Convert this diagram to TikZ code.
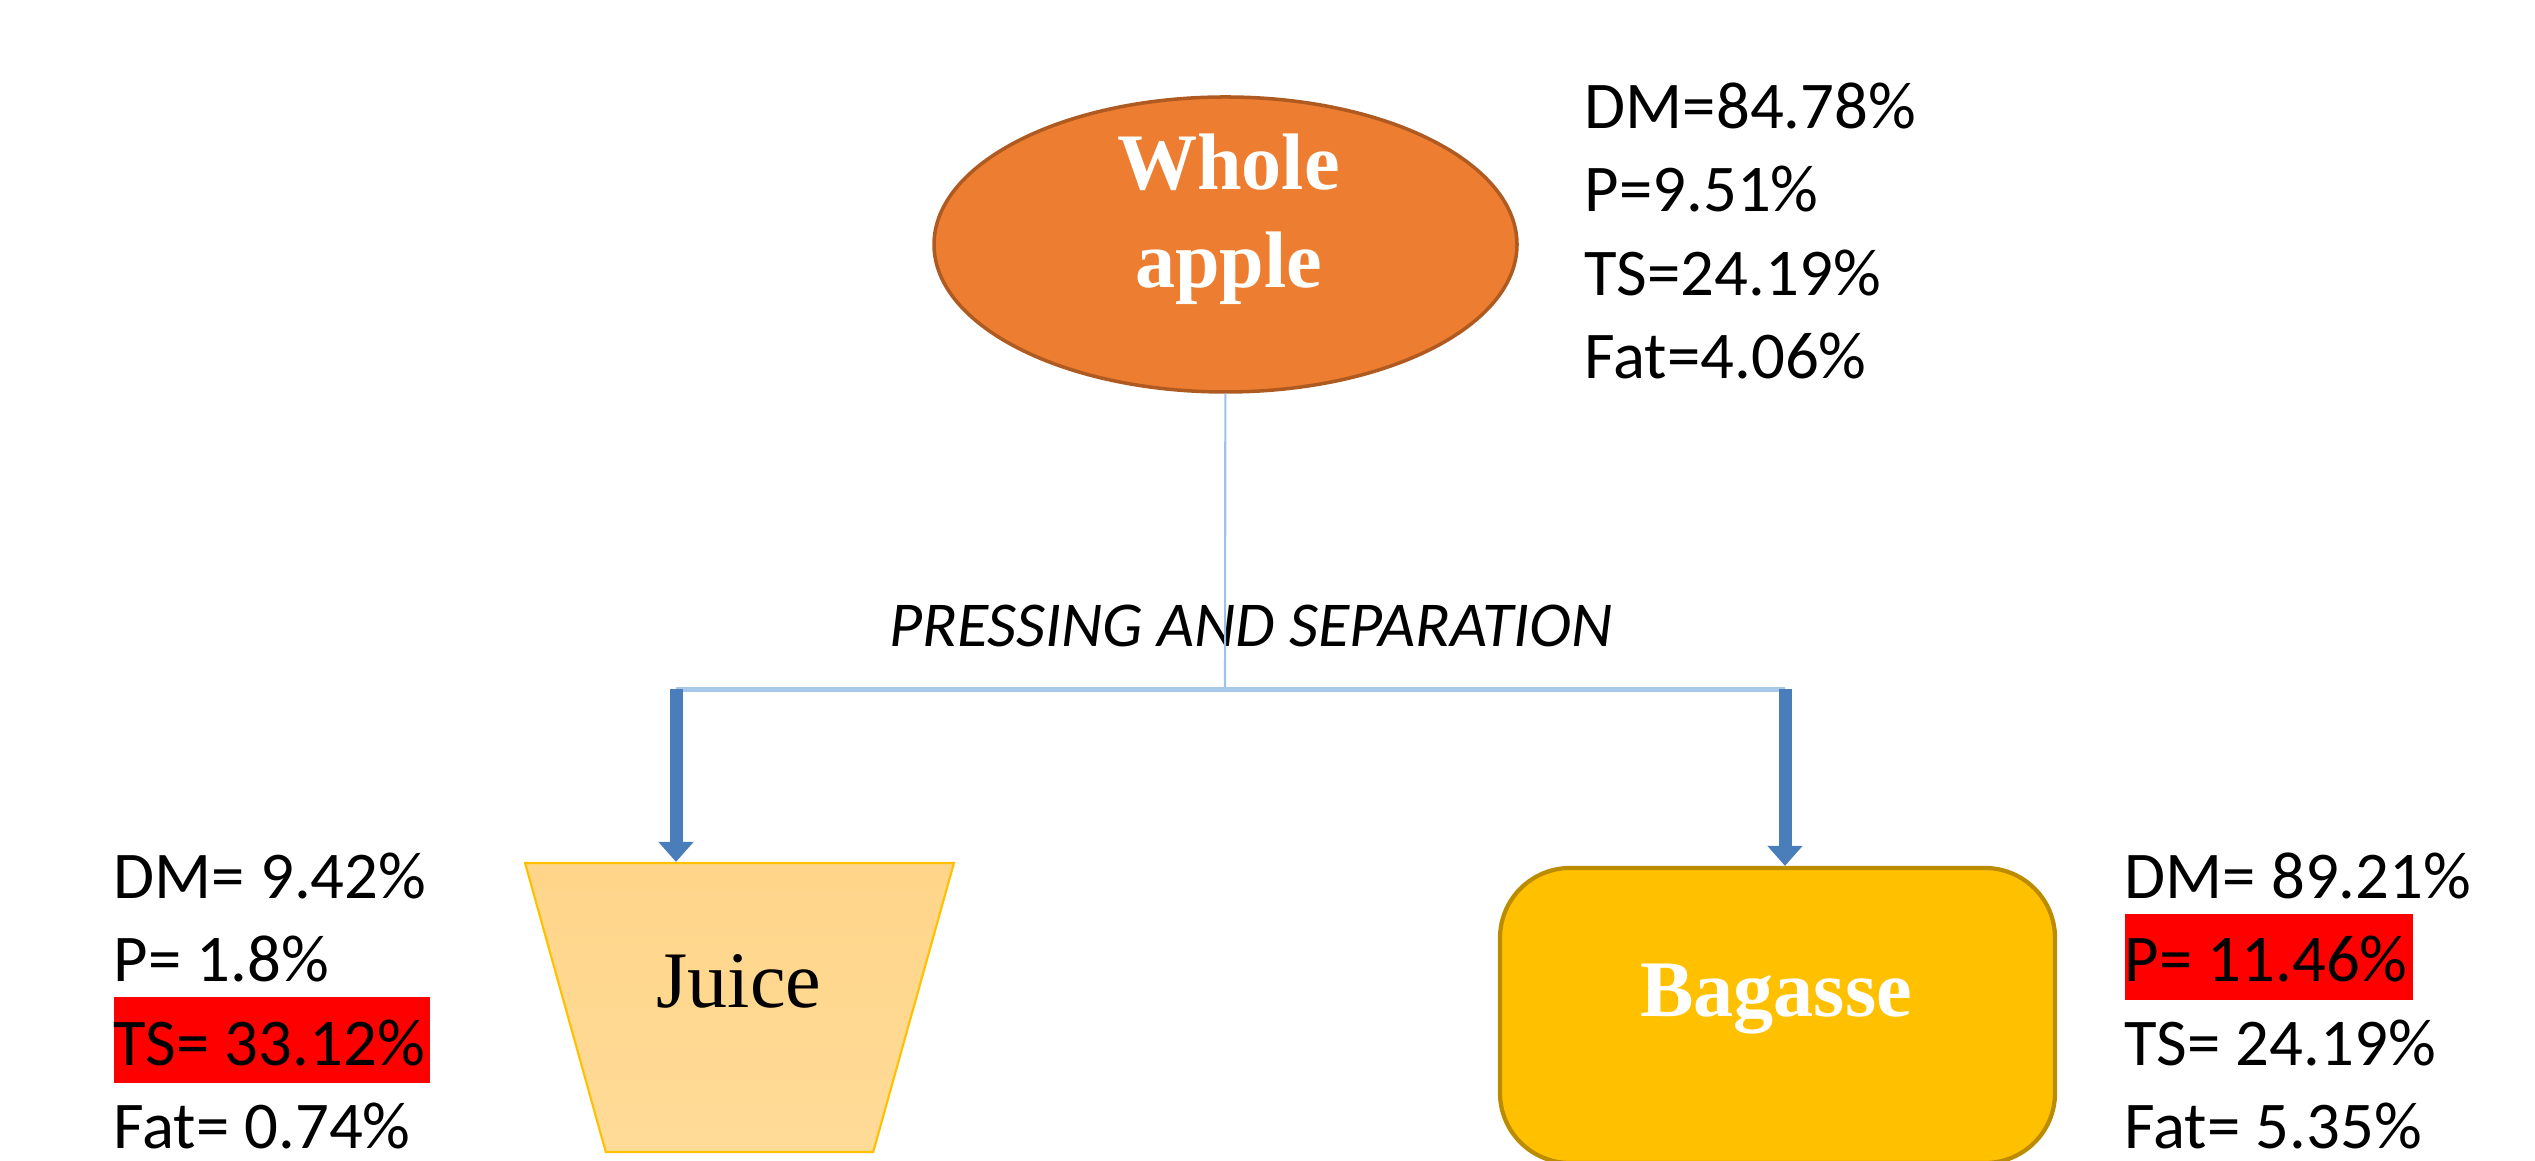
\documentclass[tikz,border=0pt]{standalone}
\usepackage{fontspec}
\setmainfont{Liberation Serif}
\newfontfamily\calibri{Carlito}
\usetikzlibrary{positioning,shapes.geometric,arrows.meta}

\definecolor{appleorange}{HTML}{ED7D31}
\definecolor{appleedge}{HTML}{AE5A21}
\definecolor{stemblue}{HTML}{9DC3E6}
\definecolor{barblue}{HTML}{A8C8EA}
\definecolor{arrowblue}{HTML}{4A7EBB}
\definecolor{juicetop}{HTML}{FFD589}
\definecolor{juicebottom}{HTML}{FFDB98}
\definecolor{juiceedge}{HTML}{FFC000}
\definecolor{bagassefill}{HTML}{FFC000}
\definecolor{bagasseedge}{HTML}{BC8C00}
\definecolor{markred}{HTML}{FF0000}

\newcommand{\redmark}[1]{{\setlength{\fboxsep}{0pt}\colorbox{markred}{\rule[-0.18cm]{0pt}{0.86cm}#1\kern0.05cm}}}

\begin{document}
\begin{tikzpicture}[
    applebox/.style = {draw=appleedge, line width=1pt, fill=appleorange, ellipse, minimum width=5.83cm, minimum height=2.95cm},
    juicebox/.style = {draw=juiceedge, line width=0.6pt, top color=juicetop, bottom color=juicebottom, trapezium, trapezium stretches=true, shape border rotate=180, trapezium angle=73.2, minimum width=4.29cm, minimum height=2.89cm},
    bagassebox/.style = {draw=bagasseedge, line width=1.2pt, fill=bagassefill, rounded corners=0.7cm, minimum width=5.55cm, minimum height=2.95cm},
    nametext/.style = {font=\fontsize{22.8}{28}\selectfont, align=center},
    stats/.style = {font=\calibri\fontsize{19}{23.7}\selectfont, align=left, inner sep=0pt, anchor=west},
    stemline/.style = {draw=stemblue, line width=0.6pt},
    splitbar/.style = {draw=barblue, line width=1.4pt},
    flow/.style = {draw=arrowblue, line width=0.13cm, -{Triangle[width=0.34cm,length=0.2cm]}}
]
    \useasboundingbox (0,0) rectangle (25.35,11.61);

    % top: whole fruit
    \node[applebox] (apple) at (12.255,9.165) {};
    \node[nametext, text=white, font=\fontsize{22.8}{28}\selectfont\bfseries] (appletxt) at ([xshift=0.03cm,yshift=0.25cm]apple.center) {Whole\\apple};
    \node[stats] (applestats) at (15.84,9.3) {DM=84.78\%\\P=9.51\%\\TS=24.19\%\\Fat=4.06\%};

    % split
    \coordinate (split) at (12.25,4.715);
    \coordinate (jl) at (6.76,4.715);
    \coordinate (jr) at (17.85,4.715);
    \node[font=\calibri\itshape\fontsize{18.2}{22}\selectfont] (press) at (12.51,5.35) {PRESSING AND SEPARATION};

    % products
    \node[juicebox] (juice) at (7.395,1.535) {};
    \node[nametext] (juicetxt) at (7.39,1.8) {Juice};
    \node[stats] (juicestats) at (1.13,1.6) {DM= 9.42\%\\P= 1.8\%\\\redmark{TS= 33.12\%}\\Fat= 0.74\%};

    \node[bagassebox] (bagasse) at (17.775,1.455) {};
    \node[nametext, text=white, font=\fontsize{22.8}{28}\selectfont\bfseries] (bagassetxt) at (17.76,1.62) {Bagasse};
    \node[stats] (bagassestats) at (21.24,1.6) {DM= 89.21\%\\\redmark{P= 11.46\%}\\TS= 24.19\%\\Fat= 5.35\%};

    \draw[stemline] (apple) -- (split);
    \draw[splitbar] (jl) -- (jr);
    \draw[flow] (jl) -- (jl |- juice.north);
    \draw[flow] (jr) -- (jr |- bagasse.north);
\end{tikzpicture}
\end{document}
